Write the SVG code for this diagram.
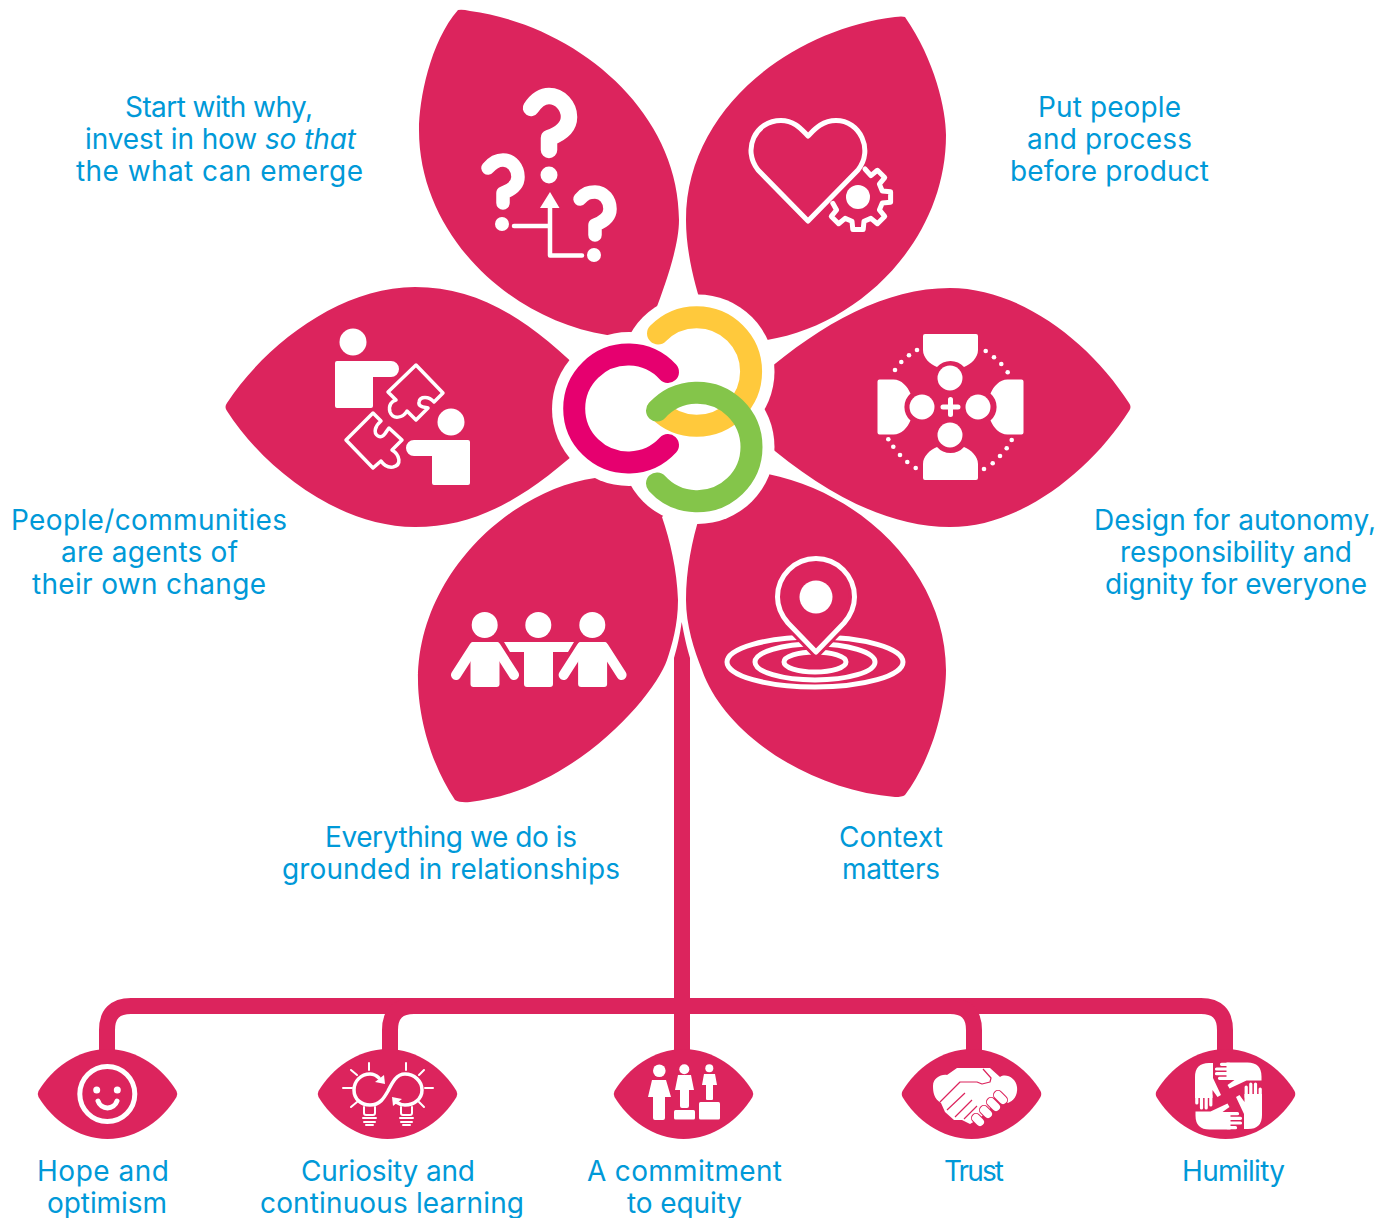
<svg xmlns="http://www.w3.org/2000/svg" xmlns:xlink="http://www.w3.org/1999/xlink" width="1394" height="1218" viewBox="0 0 1394 1218">
<style>
.petal,.eye{fill:#dc245d}
.w{fill:#fff}
.ws{fill:none;stroke:#fff;stroke-linecap:round;stroke-linejoin:round}
.lbl{font-family:"Inter","Noto Sans","Liberation Sans",sans-serif;font-size:28px;fill:#0099d8}
.conn{fill:none;stroke:#dc245d;stroke-width:16}
.ring{fill:none;stroke-width:22;stroke-linecap:round}
</style>
<defs>
<path id="eyeShape" class="eye" d="M-69,-3C-56,-25 -30,-45 0,-45C30,-45 56,-25 69,-3Q70.500,0 69,3C56,25 30,45 0,45C-30,45 -56,25 -69,3Q-70.500,0 -69,-3Z"/>
<path id="qPerson" class="w" d="M923,336Q923,334 925,334H976Q978,334 978,336V350C978,358 971,364 964,367A18,18 0 0 0 937,367C930,364 923,358 923,350Z"/>
<g id="sidePerson">
<circle class="w" cx="484.700" cy="625" r="13"/>
<rect class="w" x="470.500" y="642" width="29" height="45" rx="3"/>
<path class="ws" stroke-width="10" d="M474,647L456,675M496,647L514,675"/>
</g>
<g id="hand">
<path class="w" d="M1209,1063H1213V1078L1221,1095L1217.500,1097L1212.500,1090V1098H1195V1077Q1195,1063 1209,1063Z"/>
<path class="ws" stroke-width="3.200" d="M1196.800,1095V1103M1201.500,1095V1108M1206.200,1095V1108M1210.800,1095V1105"/>
</g>
</defs>
<g id="connectors">
<path class="conn" d="M107,1056V1030Q107,1006 131,1006H1201Q1225,1006 1225,1030V1056"/>
<path class="conn" d="M390,1056V1030Q390,1006 414,1006H450"/>
<path class="conn" d="M974,1056V1030Q974,1006 950,1006H900"/>
<path fill="#dc245d" d="M681.700,622C680,635 677,648 674,658V1056H690V658C687,648 684,635 681.700,622Z"/>
</g>
<g id="petal-why">
<path class="petal" d="M458,10C430,42 419,100 419,130C419,235 510,320 607,335L640,350L672,330L655,312C667,280 679,245 679,220C679,110 575,25 470,11Q462,9 458,10Z"/>
<path class="ws" stroke-width="16.500" d="M531,108C537,99 543,96 549,96C560,96 569,106 569,117C569,128 560,134 549,138V150"/>
<circle class="w" cx="549" cy="175" r="8.500"/>
<path class="ws" stroke-width="13.500" d="M488,168C493,162 497,160 503,160C512,160 518,168 518,177C518,186 511,190 503,193V203"/>
<circle class="w" cx="502" cy="224" r="7"/>
<path class="ws" stroke-width="13.500" d="M580,199C585,193 589,192 595,192C604,192 610,200 610,209C610,218 603,222 595,225V235"/>
<circle class="w" cx="594" cy="255" r="7"/>
<polygon class="w" points="550,192 540,208 559.500,208"/>
<path class="ws" stroke-width="4.500" d="M550,206V255.500H582M514,226H550"/>
<text class="lbl" x="125" y="117" textLength="188">Start with why,</text>
<text class="lbl" x="85" y="149" textLength="271">invest in how <tspan font-style="italic">so that</tspan></text>
<text class="lbl" x="76" y="181" textLength="287">the what can emerge</text>
</g>
<g id="petal-people">
<path class="petal" d="M905,17C935,60 946,110 946,135C946,240 860,325 767,340L705,315C694,285 686,250 686,220C686,110 790,30 895,17Q902,16 905,17Z"/>
<path class="ws" stroke-width="5" d="M808,221L758,170C742,150 755,120.500 781,120.500C795,120.500 802,130 808,136C814,130 822,120.500 836,120.500C860,120.500 874,150 858,170Z"/>
<path class="ws" stroke-width="5" d="M865,169L870.900,175.600L877.400,170.300L884.700,177.600L879.400,184.100L882.300,191L890.600,191.800V202.200L882.300,203L879.400,209.900L884.700,216.400L877.400,223.700L870.900,218.400L864,221.300L863.200,229.600H852.800L852,221.300L845.100,218.400L838.600,223.700L831.300,216.400L836.600,209.900L832.800,203.300"/>
<circle class="w" cx="858" cy="197" r="12"/>
<text class="lbl" x="1038" y="117" textLength="143">Put people</text>
<text class="lbl" x="1027" y="149" textLength="165">and process</text>
<text class="lbl" x="1010" y="181" textLength="199">before product</text>
</g>
<g id="petal-autonomy">
<path class="petal" d="M1129,403Q1132,407 1129,411C1090,472 1020,527 950,527C880,527 810,485 745,425V390C810,330 880,288 950,288C1020,288 1090,342 1129,403Z"/>
<use xlink:href="#qPerson" href="#qPerson"/>
<use xlink:href="#qPerson" href="#qPerson" transform="rotate(90 950.500 407)"/>
<use xlink:href="#qPerson" href="#qPerson" transform="rotate(180 950.500 407)"/>
<use xlink:href="#qPerson" href="#qPerson" transform="rotate(270 950.500 407)"/>
<circle class="w" cx="950" cy="378" r="12.500"/>
<circle class="w" cx="950" cy="435" r="12.500"/>
<circle class="w" cx="922" cy="407" r="12.500"/>
<circle class="w" cx="978" cy="407" r="12.500"/>
<path class="ws" stroke-width="5" d="M943,407H958M950.500,399.500V414.500"/>
<g class="w">
<circle cx="917" cy="350" r="2.300"/><circle cx="909" cy="355.300" r="2.300"/><circle cx="901.300" cy="362" r="2.300"/><circle cx="895" cy="370" r="2.300"/>
<circle cx="985.700" cy="351" r="2.300"/><circle cx="994" cy="357.300" r="2.300"/><circle cx="1001.300" cy="364" r="2.300"/><circle cx="1007.700" cy="372.300" r="2.300"/>
<circle cx="888.300" cy="439.300" r="2.300"/><circle cx="893.300" cy="446.700" r="2.300"/><circle cx="900" cy="455" r="2.300"/><circle cx="907.300" cy="462" r="2.300"/><circle cx="915.700" cy="468" r="2.300"/>
<circle cx="1011.700" cy="440" r="2.300"/><circle cx="1006.700" cy="448.300" r="2.300"/><circle cx="1000" cy="456" r="2.300"/><circle cx="992.700" cy="463.300" r="2.300"/><circle cx="984" cy="469" r="2.300"/>
</g>
<text class="lbl" x="1094" y="530" textLength="282">Design for autonomy,</text>
<text class="lbl" x="1120" y="562" textLength="232">responsibility and</text>
<text class="lbl" x="1105" y="594" textLength="262">dignity for everyone</text>
</g>
<g id="petal-context">
<path class="petal" d="M905,795C935,755 946,700 946,670C946,580 870,495 768,474L700,515C692,540 686,570 686,600C686,625 694,650 702,670C725,735 810,790 895,797Q902,797 905,795Z"/>
<ellipse class="ws" cx="815" cy="662" rx="88" ry="25" stroke-width="5"/>
<ellipse class="ws" cx="815" cy="662" rx="60" ry="18" stroke-width="5"/>
<ellipse class="ws" cx="815" cy="662" rx="31" ry="10" stroke-width="5"/>
<path fill="#dc245d" stroke="#dc245d" stroke-width="11" d="M816,652L788,623C782,616 777.500,608 777.500,597A38.500,38.500 0 0 1 854.500,597C854.500,608 850,616 844,623Z"/>
<path class="ws" stroke-width="5" d="M816,652L788,623C782,616 777.500,608 777.500,597A38.500,38.500 0 0 1 854.500,597C854.500,608 850,616 844,623Z"/>
<circle class="w" cx="816" cy="597" r="16.500"/>
<text class="lbl" x="839" y="847" textLength="104">Context</text>
<text class="lbl" x="842" y="879" textLength="98">matters</text>
</g>
<g id="petal-relationships">
<path class="petal" d="M455,800C428,760 418,710 418,680C418,575 510,490 595,478L640,460L680,500L662,517C670,540 677,570 678,600C678,625 672,645 667,660C655,695 575,790 470,802Q460,803 455,800Z"/>
<use xlink:href="#sidePerson" href="#sidePerson"/>
<circle class="w" cx="538.300" cy="625" r="13"/>
<path class="w" d="M504,642H574L568,652H553V684Q553,687 550,687H527Q524,687 524,684V652H510Z"/>
<use xlink:href="#sidePerson" href="#sidePerson" transform="translate(107.600 0)"/>
<text class="lbl" x="325" y="847" textLength="252">Everything we do is</text>
<text class="lbl" x="282" y="879" textLength="338">grounded in relationships</text>
</g>
<g id="petal-agents">
<path class="petal" d="M227,403C265,345 340,287 415,287C480,287 530,320 590,380V440C530,495 480,527 415,527C340,527 265,470 227,411Q224,407 227,403Z"/>
<circle class="w" cx="353" cy="342" r="13.500"/>
<path class="w" d="M337,361H391A8,8 0 0 1 391,377H373V406Q373,408 371,408H337Q335,408 335,406V363Q335,361 337,361Z"/>
<circle class="w" cx="451" cy="422" r="13.500"/>
<path class="w" d="M468,440H414A8,8 0 0 0 414,456H432V483Q432,485 434,485H468Q470,485 470,483V442Q470,440 468,440Z"/>
<path class="ws" stroke-width="3.500" d="M416,365L443,393L434,402C429,396 420,396 419,402C418,407 424,407 428,408L416,420L407,411C403,418 393,420 390,412C388,405 392,401 396,400L388,392Z"/>
<path class="ws" stroke-width="3.500" d="M346,440L373,413L381,421C375,426 373,433 378,436C384,439 386,431 389,428L402,440L392,450C400,455 402,465 393,467C386,468 383,464 381,461L373,468Z"/>
<text class="lbl" x="11" y="530" textLength="276">People/communities</text>
<text class="lbl" x="61" y="562" textLength="177">are agents of</text>
<text class="lbl" x="32" y="594" textLength="234">their own change</text>
</g>
<g id="hub">
<circle class="w" cx="629" cy="409" r="77"/>
<circle class="w" cx="697.500" cy="371.500" r="77"/>
<circle class="w" cx="697.500" cy="447" r="77"/>
<path class="ring" stroke="#ffc93c" d="M658,333.500A54.300,54.300 0 1 1 658,409.500"/>
<path class="ring" stroke="#e6006f" d="M668,372A54,54 0 1 0 668,445"/>
<path class="ring" stroke="#84c54a" d="M657,410.500A54.300,54.300 0 1 1 657,483.500"/>
</g>
<g id="value-hope">
<use xlink:href="#eyeShape" href="#eyeShape" x="107.500" y="1094"/>
<circle class="ws" cx="107.300" cy="1094" r="27.500" stroke-width="5"/>
<circle class="w" cx="96.700" cy="1090" r="3.500"/>
<circle class="w" cx="117.300" cy="1090" r="3.500"/>
<path class="ws" stroke-width="5" d="M98,1101A10,10 0 0 0 117,1101"/>
<text class="lbl" x="37" y="1181" textLength="132">Hope and</text>
<text class="lbl" x="47" y="1213" textLength="120">optimism</text>
</g>
<g id="value-curiosity">
<use xlink:href="#eyeShape" href="#eyeShape" x="387.500" y="1094"/>
<path class="ws" stroke-width="3.500" d="M379,1078C376,1075 373,1074 370,1074C361,1074 354,1081 354,1090C354,1099 361,1105 370,1105C380,1105 384,1098 388,1091C392,1083 396,1074 405,1074C414,1074 422,1081 422,1090C422,1099 414,1105 405,1105C402,1105 399,1104 396,1102"/>
<polygon class="w" points="384,1075 385,1084 375,1082"/>
<polygon class="w" points="392,1097 402,1099 393,1106"/>
<path class="ws" stroke-width="2" d="M369,1063V1070M406,1063V1070M351,1070L357,1075M424,1070L419,1075M343,1088H352M425,1088H433M351,1107L357,1102M424,1107L419,1102"/>
<path class="ws" stroke-width="2" d="M364,1107V1113Q364,1115 366,1115H373Q375,1115 375,1113V1107M363,1118H376M364,1122H375M366,1125H373"/>
<path class="ws" stroke-width="2" d="M401,1107V1113Q401,1115 403,1115H410Q412,1115 412,1113V1107M400,1118H413M401,1122H412M403,1125H410"/>
<text class="lbl" x="301" y="1181" textLength="174">Curiosity and</text>
<text class="lbl" x="260" y="1213" textLength="264">continuous learning</text>
</g>
<g id="value-equity">
<use xlink:href="#eyeShape" href="#eyeShape" x="683.500" y="1094"/>
<circle class="w" cx="659.300" cy="1070.700" r="6.300"/>
<path class="w" d="M652,1080H666L671,1097H665V1118Q665,1120 663,1120H655Q653,1120 653,1118V1097H648Z"/>
<circle class="w" cx="684.300" cy="1069.300" r="5"/>
<path class="w" d="M678,1075H691L694,1090H689V1106Q689,1108 687,1108H682Q680,1108 680,1106V1090H675Z"/>
<rect class="w" x="674" y="1110" width="21" height="9.500" rx="1.500"/>
<circle class="w" cx="709.300" cy="1068.300" r="4"/>
<path class="w" d="M704,1074H715L717,1085H713V1099Q713,1100 712,1100H707Q706,1100 706,1099V1085H702Z"/>
<rect class="w" x="699" y="1102" width="21" height="17.500" rx="1.500"/>
<text class="lbl" x="587" y="1181" textLength="195">A commitment</text>
<text class="lbl" x="627" y="1213" textLength="115">to equity</text>
</g>
<g id="value-trust">
<use xlink:href="#eyeShape" href="#eyeShape" x="971.500" y="1094"/>
<path class="w" d="M957,1068H990L1000,1077C1006,1073 1016,1078 1017,1087C1018,1096 1013,1101 1008,1103L1000,1099L980,1118L970,1124L962,1120L954,1120L945,1112L941,1103C934,1099 933,1092 933,1086C933,1078 941,1074 947,1075Z"/>
<path fill="none" stroke="#dc245d" stroke-width="1.200" stroke-linejoin="round" d="M940,1102L960,1082H977L982,1084L990,1082L991,1078L983,1069M965,1093L947,1110M972,1100L955,1117M977,1106L964,1119"/>
<path fill="none" stroke="#dc245d" stroke-width="10" stroke-linecap="round" d="M976,1118L980,1122M984,1110L988,1114M991,1102L996,1107M998,1095L1003,1100"/>
<path class="ws" stroke-width="8" d="M976,1118L980,1122M984,1110L988,1114M991,1102L996,1107M998,1095L1003,1100"/>
<text class="lbl" x="944" y="1181" textLength="60">Trust</text>
</g>
<g id="value-humility">
<use xlink:href="#eyeShape" href="#eyeShape" x="1225.500" y="1094"/>
<use xlink:href="#hand" href="#hand"/>
<use xlink:href="#hand" href="#hand" transform="rotate(90 1228.500 1096)"/>
<use xlink:href="#hand" href="#hand" transform="rotate(180 1228.500 1096)"/>
<use xlink:href="#hand" href="#hand" transform="rotate(270 1228.500 1096)"/>
<text class="lbl" x="1182" y="1181" textLength="103">Humility</text>
</g>
</svg>
